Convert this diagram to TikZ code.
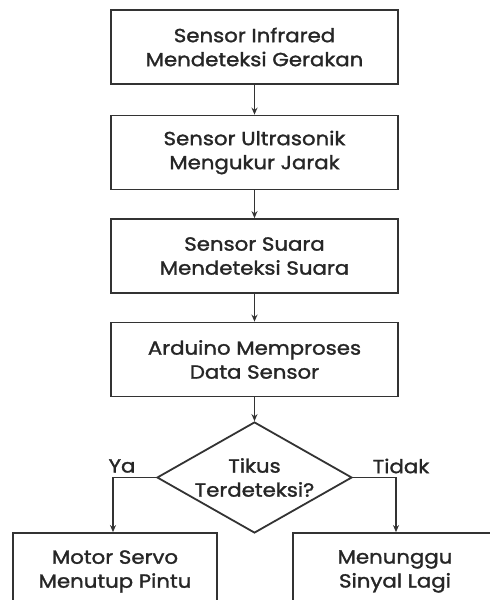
\documentclass[tikz,border=0pt]{standalone}
\usepackage{fontspec}
\setmainfont{Poppins}[FakeBold=1.5,FakeStretch=1.12]
\usetikzlibrary{shapes.geometric,arrows.meta}
\definecolor{linecol}{HTML}{333333}
\definecolor{txtcol}{HTML}{262626}
\begin{document}
\begin{tikzpicture}[x=1pt,y=-1pt,
  txt/.style={font=\fontsize{19}{24}\selectfont, text=txtcol},
  box/.style={txt, draw=linecol, line width=1.8pt, minimum width=287pt, minimum height=74pt,
    inner sep=0pt, align=center},
  endbox/.style={box, minimum width=204pt, minimum height=77pt},
  decision/.style={txt, diamond, aspect=1.76, draw=linecol, line width=1.8pt, minimum width=195pt,
    minimum height=111pt, inner sep=0pt, align=center},
  lbl/.style={txt, inner sep=0pt},
  arr/.style={draw=linecol, line width=1.8pt, -{Stealth[length=7pt,width=6pt]}}]
\useasboundingbox (0,0) rectangle (490,600);
\begin{scope}
\clip (0,0) rectangle (490,600);
\fill[white] (0,0) rectangle (490,600);
\node[box] (b1) at (254.5,47) {Sensor Infrared\\Mendeteksi Gerakan};
\node[box] (b2) at (254.5,152.5) {Sensor Ultrasonik\\Mengukur Jarak};
\node[box] (b3) at (254.5,256) {Sensor Suara\\Mendeteksi Suara};
\node[box] (b4) at (254.5,359.5) {Arduino Memproses\\Data Sensor};
\node[decision] (d) at (254.5,477.5) {Tikus\\Terdeteksi?};
\node[endbox] (yes) at (115,571.5) {Motor Servo\\Menutup Pintu};
\node[endbox] (no) at (395,571.5) {Menunggu\\Sinyal Lagi};
\draw[arr] (b1.south) -- (b2.north);
\draw[arr] (b2.south) -- (b3.north);
\draw[arr] (b3.south) -- (b4.north);
\draw[arr] (b4.south) -- (d.north);
\draw[arr] (d.west) -| (yes.north -| 113,0);
\draw[arr] (d.east) -| (no.north -| 396,0);
\node[lbl] (ya) at (122,466) {Ya};
\node[lbl] (tidak) at (401,466) {Tidak};
\end{scope}
\end{tikzpicture}
\end{document}
